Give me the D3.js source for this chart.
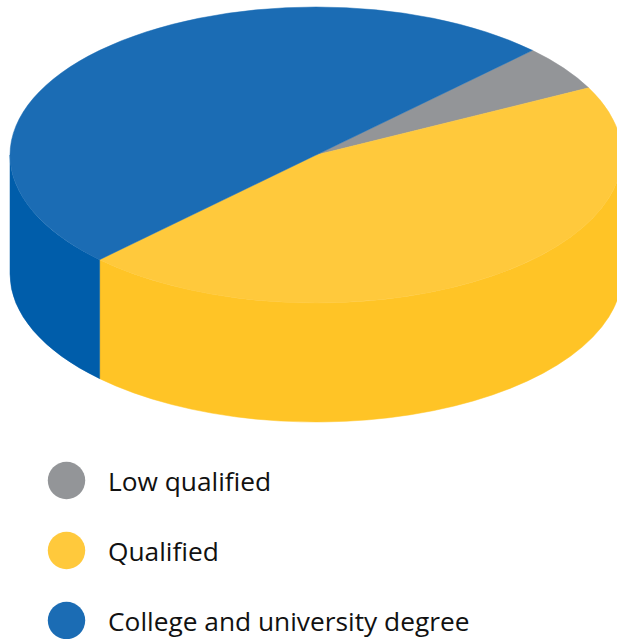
<!DOCTYPE html>
<html>
<head>
<meta charset="utf-8">
<script src="https://cdn.jsdelivr.net/npm/d3@7"></script>
<style>
  html, body { margin: 0; padding: 0; background: #fff; }
  svg { display: block; }
  text { font-family: "Open Sans", "Noto Sans", sans-serif; fill: #111; }
</style>
</head>
<body>
<svg id="chart" width="617" height="639"></svg>
<script>
// Share of workers by qualification level (percent)
const categories = ["Low qualified", "Qualified", "College and university degree"];
const values = [5, 45, 50];
const topColors = ["#939598", "#FFC93C", "#1B6CB4"];
const sideColors = ["#86888B", "#FFC426", "#005DAA"];

const W = 617, H = 639;
const cx = 316, cy = 155, rx = 306, ry = 148, depth = 119;

const svg = d3.select("#chart");

const pie = d3.pie().sort(null).value(d => d).startAngle(Math.PI / 4).endAngle(Math.PI / 4 + 2 * Math.PI);
const arcs = pie(values);

// pie angle (clockwise from 12 o'clock) -> point on the ellipse
const px = a => cx + rx * Math.sin(a);
const py = (a, dy = 0) => cy - ry * Math.cos(a) + dy;

function topPath(d) {
  const a0 = d.startAngle, a1 = d.endAngle;
  const large = (a1 - a0) > Math.PI ? 1 : 0;
  return `M${cx},${cy}L${px(a0)},${py(a0)}A${rx},${ry} 0 ${large} 1 ${px(a1)},${py(a1)}Z`;
}

// front wall spans pie angles PI/2 .. 3PI/2 (modulo 2PI)
function sidePath(d) {
  const segs = [];
  for (let k = -1; k <= 1; k++) {
    const lo = Math.PI / 2 + 2 * Math.PI * k, hi = 3 * Math.PI / 2 + 2 * Math.PI * k;
    const a0 = Math.max(d.startAngle, lo), a1 = Math.min(d.endAngle, hi);
    if (a1 > a0) segs.push([a0, a1]);
  }
  return segs.map(([a0, a1]) =>
    `M${px(a0)},${py(a0)}A${rx},${ry} 0 0 1 ${px(a1)},${py(a1)}` +
    `L${px(a1)},${py(a1, depth)}A${rx},${ry} 0 0 0 ${px(a0)},${py(a0, depth)}Z`
  ).join("");
}

const g = svg.append("g");

g.selectAll("path.side").data(arcs).join("path")
  .attr("class", "side")
  .attr("d", sidePath)
  .attr("fill", (d, i) => sideColors[i])
  .attr("stroke", (d, i) => sideColors[i])
  .attr("stroke-width", 0.5);

g.selectAll("path.top").data(arcs).join("path")
  .attr("class", "top")
  .attr("d", topPath)
  .attr("fill", (d, i) => topColors[i])
  .attr("stroke", (d, i) => topColors[i])
  .attr("stroke-width", 0.5);

// legend
const legend = svg.append("g");
const rows = legend.selectAll("g").data(categories).join("g")
  .attr("transform", (d, i) => `translate(0,${480.5 + i * 70})`);
rows.append("circle").attr("cx", 66.5).attr("cy", 0).attr("r", 18.7)
  .attr("fill", (d, i) => topColors[i]);
rows.append("text").attr("x", 108).attr("y", 10.5)
  .attr("font-size", 26.3)
  .text(d => d);
</script>
</body>
</html>
